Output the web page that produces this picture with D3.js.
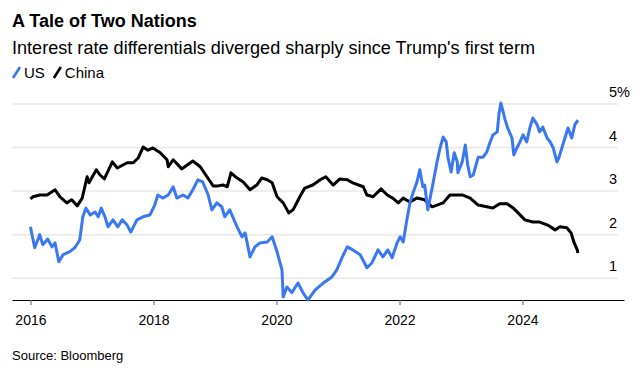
<!DOCTYPE html>
<html>
<head>
<meta charset="utf-8">
<script src="https://cdn.jsdelivr.net/npm/d3@7"></script>
<style>
  body { margin: 0; background: #fff; }
  text { font-family: "Liberation Sans", Arial, sans-serif; fill: #000; }
</style>
</head>
<body>
<script>
// dati (anno decimale, valore in %)
var usYears = [2016.0, 2016.02, 2016.07, 2016.15, 2016.2, 2016.28, 2016.35, 2016.4, 2016.46, 2016.53, 2016.64, 2016.72, 2016.77, 2016.8, 2016.85, 2016.9, 2016.97,
  2017.05, 2017.1, 2017.15, 2017.21, 2017.26, 2017.34, 2017.42, 2017.49, 2017.57, 2017.63, 2017.73, 2017.83, 2017.94,
  2018.02, 2018.07, 2018.15, 2018.24, 2018.32, 2018.38, 2018.48, 2018.56, 2018.64, 2018.72, 2018.8, 2018.89, 2018.95,
  2019.03, 2019.11, 2019.16, 2019.24, 2019.36, 2019.44, 2019.49, 2019.57, 2019.65, 2019.73, 2019.85, 2019.93,
  2020.01, 2020.09, 2020.11, 2020.17, 2020.25, 2020.35, 2020.43, 2020.51, 2020.63, 2020.76, 2020.9, 2020.98,
  2021.07, 2021.15, 2021.24, 2021.36, 2021.47, 2021.55, 2021.65, 2021.73, 2021.81, 2021.88, 2021.96,
  2022.01, 2022.06, 2022.12, 2022.17, 2022.22, 2022.28, 2022.33, 2022.38, 2022.41, 2022.46, 2022.54, 2022.61, 2022.66, 2022.71, 2022.76, 2022.79, 2022.84, 2022.89, 2022.94, 2022.95,
  2023.02, 2023.07, 2023.11, 2023.15, 2023.2, 2023.28, 2023.36, 2023.42, 2023.47, 2023.52, 2023.59, 2023.62, 2023.65, 2023.72, 2023.76, 2023.83, 2023.86, 2023.91, 2023.96,
  2024.01, 2024.07, 2024.12, 2024.17, 2024.24, 2024.28, 2024.33, 2024.4, 2024.45, 2024.5, 2024.56, 2024.59, 2024.64, 2024.69, 2024.74, 2024.8, 2024.85, 2024.9];
var usValues = [2.18, 2.04, 1.7, 2.0, 1.77, 1.9, 1.72, 1.81, 1.38, 1.54, 1.61, 1.7, 1.81, 1.88, 2.41, 2.61, 2.45,
  2.52, 2.41, 2.61, 2.41, 2.18, 2.34, 2.18, 2.34, 2.22, 2.06, 2.34, 2.41, 2.45,
  2.68, 2.91, 2.84, 2.91, 3.1, 2.84, 2.91, 2.84, 3.03, 3.26, 3.21, 2.91, 2.57,
  2.73, 2.64, 2.41, 2.57, 2.18, 1.95, 2.04, 1.49, 1.72, 1.81, 1.83, 1.95,
  1.61, 1.19, 0.57, 0.8, 0.67, 0.89, 0.67, 0.5, 0.73, 0.89, 1.03, 1.19,
  1.49, 1.72, 1.65, 1.54, 1.24, 1.35, 1.65, 1.49, 1.65, 1.47, 1.81,
  1.95, 1.83, 2.34, 2.73, 2.96, 3.19, 3.49, 3.1, 3.14, 2.57, 3.14, 3.67, 3.99, 4.24, 4.13, 3.76, 3.44, 3.88, 3.67, 3.42,
  3.67, 4.06, 3.6, 3.33, 3.37, 3.78, 3.78, 3.9, 4.11, 4.29, 4.36, 4.79, 5.02, 4.63, 4.45, 4.22, 3.83, 3.99, 4.13,
  4.29, 4.13, 4.45, 4.68, 4.52, 4.36, 4.47, 4.22, 4.13, 3.99, 3.67, 3.76, 3.99, 4.22, 4.45, 4.22, 4.52, 4.63];

var cnYears = [2016.0, 2016.04, 2016.15, 2016.27, 2016.4, 2016.48, 2016.59, 2016.67, 2016.76, 2016.84, 2016.92, 2016.95,
  2017.07, 2017.13, 2017.2, 2017.33, 2017.41, 2017.57, 2017.67, 2017.75, 2017.83, 2017.91, 2017.99,
  2018.11, 2018.22, 2018.24, 2018.32, 2018.46, 2018.51, 2018.64, 2018.76, 2018.87, 2018.97,
  2019.05, 2019.13, 2019.2, 2019.26, 2019.36, 2019.46, 2019.57, 2019.68, 2019.76, 2019.85, 2019.93,
  2020.01, 2020.11, 2020.2, 2020.27, 2020.38, 2020.46, 2020.59, 2020.71, 2020.8, 2020.92,
  2021.03, 2021.15, 2021.24, 2021.41, 2021.47, 2021.57, 2021.7, 2021.8, 2021.89, 2021.98,
  2022.06, 2022.17, 2022.28, 2022.41, 2022.53, 2022.61, 2022.71, 2022.82, 2022.9,
  2023.03, 2023.15, 2023.28, 2023.42, 2023.52, 2023.63, 2023.75, 2023.85, 2023.93,
  2024.04, 2024.17, 2024.28, 2024.41, 2024.53, 2024.61, 2024.72, 2024.79, 2024.84, 2024.89, 2024.9];
var cnValues = [2.82, 2.87, 2.91, 2.91, 3.03, 2.87, 2.73, 2.8, 2.66, 2.84, 3.33, 3.19,
  3.49, 3.37, 3.28, 3.67, 3.53, 3.65, 3.65, 3.76, 4.01, 3.94, 3.99,
  3.88, 3.72, 3.56, 3.72, 3.51, 3.56, 3.69, 3.56, 3.33, 3.12,
  3.12, 3.14, 3.1, 3.42, 3.3, 3.21, 3.03, 3.14, 3.3, 3.26, 3.19,
  2.87, 2.73, 2.5, 2.57, 2.87, 3.07, 3.14, 3.26, 3.33, 3.14,
  3.28, 3.26, 3.19, 3.1, 2.91, 2.87, 3.05, 2.91, 2.84, 2.73,
  2.84, 2.75, 2.84, 2.8, 2.64, 2.68, 2.73, 2.91, 2.91,
  2.91, 2.84, 2.68, 2.64, 2.61, 2.71, 2.71, 2.61, 2.5,
  2.34, 2.29, 2.29, 2.22, 2.11, 2.18, 2.16, 2.04, 1.81, 1.65, 1.58];

var yTicks = [1, 2, 3, 4, 5];
var xTickYears = [2016, 2018, 2020, 2022, 2024];
var seriesNames = ["US", "China"];
var seriesColors = ["#3a78f2", "#000000"];

var width = 640, height = 376;

// anno decimale -> Date
function toDate(y) {
  var yr = Math.floor(y);
  var a = new Date(yr, 0, 1), b = new Date(yr + 1, 0, 1);
  return new Date(+a + (y - yr) * (b - a));
}

var svg = d3.select("body").append("svg")
  .attr("width", width)
  .attr("height", height);

// titolo e sottotitolo
svg.append("text").attr("x", 12).attr("y", 27)
  .style("font-size", "18px").style("font-weight", "bold")
  .text("A Tale of Two Nations");
svg.append("text").attr("x", 12).attr("y", 54)
  .style("font-size", "18px")
  .attr("textLength", 523).attr("lengthAdjust", "spacingAndGlyphs")
  .text("Interest rate differentials diverged sharply since Trump's first term");

// legenda
var legend = svg.append("g").attr("transform", "translate(12,78)");
var lx = 0;
seriesNames.forEach(function (name, i) {
  legend.append("line")
    .attr("x1", lx + 1).attr("y1", 0).attr("x2", lx + 8).attr("y2", -11)
    .attr("stroke", seriesColors[i]).attr("stroke-width", 2.6);
  var t = legend.append("text").attr("x", lx + 12).attr("y", 0)
    .style("font-size", "15px").text(name);
  lx += 12 + t.node().getComputedTextLength() + 8;
});

// scale
var xScale = d3.scaleTime()
  .domain([toDate(2015.7), toDate(2025.65)])
  .range([12, 624]);
var yScale = d3.scaleLinear()
  .domain([0.5, 5])
  .range([300, 104]);

// griglia orizzontale
svg.append("g").selectAll("line")
  .data(yTicks).enter().append("line")
  .attr("x1", 12).attr("x2", 618)
  .attr("y1", function (d) { return yScale(d); })
  .attr("y2", function (d) { return yScale(d); })
  .attr("stroke", "#e8e8e8").attr("stroke-width", 1.5);

// etichette asse y
svg.append("g").selectAll("text")
  .data(yTicks).enter().append("text")
  .attr("x", 609)
  .attr("y", function (d) { return yScale(d) - 7; })
  .style("font-size", "14.5px")
  .text(function (d) { return d === 5 ? d + "%" : d; });

// asse x
var xAxis = d3.axisBottom(xScale)
  .tickValues(xTickYears.map(toDate))
  .tickFormat(d3.timeFormat("%Y"))
  .tickSize(5)
  .tickSizeOuter(0)
  .tickPadding(10);
var gx = svg.append("g").attr("transform", "translate(0,300)").call(xAxis);
gx.select(".domain").attr("stroke", "#000").attr("stroke-width", 1.2);
gx.selectAll(".tick line").attr("stroke", "#777").attr("stroke-width", 1.2);
gx.selectAll(".tick text").style("font-size", "14px")
  .style("font-family", "'Liberation Sans', Arial, sans-serif").attr("fill", "#000");

// linee
var line = d3.line()
  .x(function (d) { return xScale(toDate(d[0])); })
  .y(function (d) { return yScale(d[1]); });

var cnData = cnYears.map(function (y, i) { return [y, cnValues[i]]; });
var usData = usYears.map(function (y, i) { return [y, usValues[i]]; });

svg.append("path").datum(cnData)
  .attr("d", line).attr("fill", "none")
  .attr("stroke", seriesColors[1]).attr("stroke-width", 3)
  .attr("stroke-linejoin", "round");
svg.append("path").datum(usData)
  .attr("d", line).attr("fill", "none")
  .attr("stroke", seriesColors[0]).attr("stroke-width", 3)
  .attr("stroke-linejoin", "round");

// fonte
svg.append("text").attr("x", 12).attr("y", 360)
  .style("font-size", "13px")
  .text("Source: Bloomberg");
</script>
</body>
</html>
